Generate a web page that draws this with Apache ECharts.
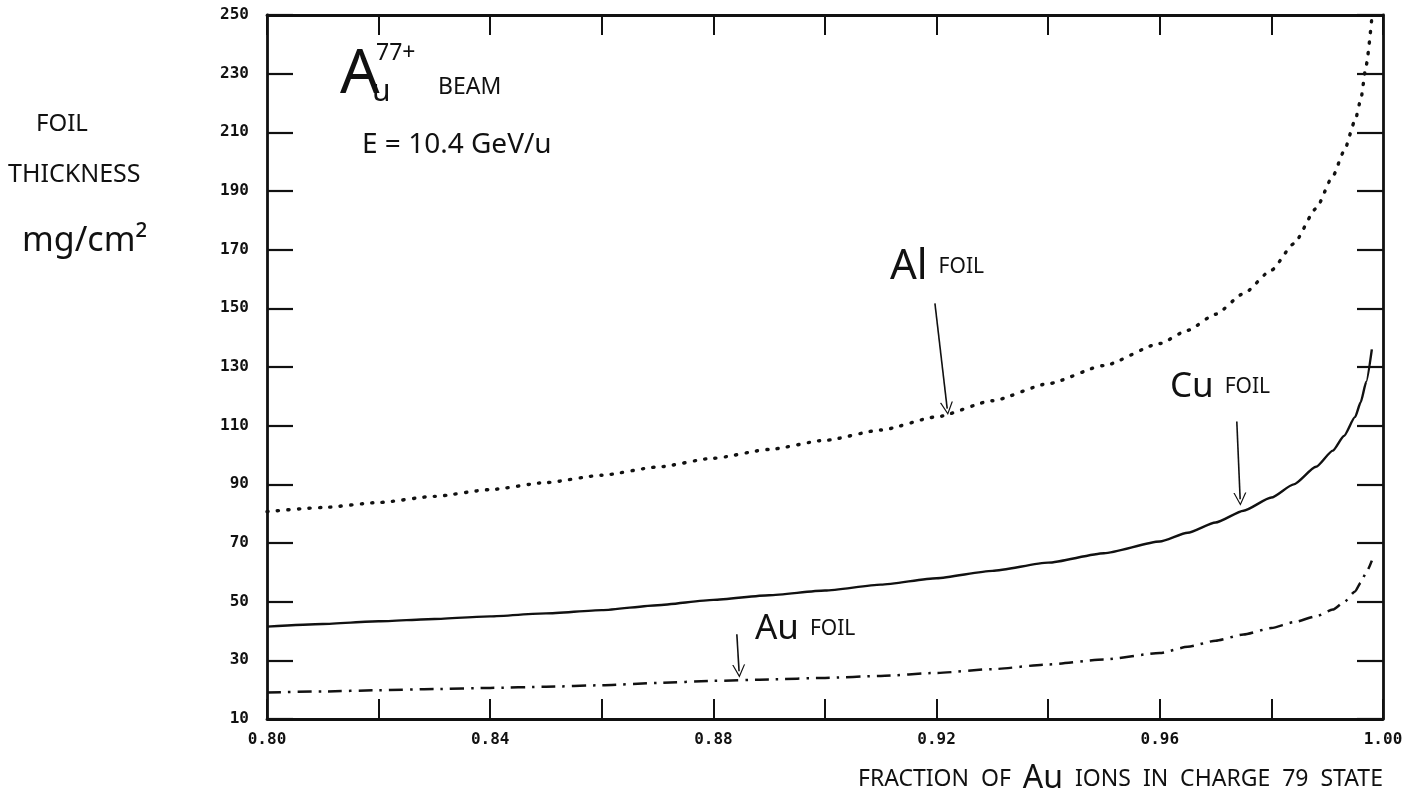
<!DOCTYPE html>
<html>
<head>
<meta charset="utf-8">
<script src="https://cdn.jsdelivr.net/npm/echarts@6/dist/echarts.min.js"></script>
<style>
html,body{margin:0;padding:0;background:#ffffff;}
#chart{width:1417px;height:807px;}
</style>
</head>
<body>
<div id="chart"></div>
<script>
// ---- data ----
const fractions = [0.800, 0.810, 0.820, 0.830, 0.840, 0.850, 0.860, 0.870, 0.880, 0.890,
                   0.900, 0.910, 0.920, 0.930, 0.940, 0.950, 0.960, 0.965, 0.970, 0.975,
                   0.980, 0.984, 0.988, 0.991, 0.993, 0.995, 0.996, 0.997, 0.998];
const alFoil = [80.7, 82.1, 83.8, 85.9, 88.2, 90.6, 93.1, 95.9, 98.9, 101.9,
                105.0, 108.5, 113.0, 118.5, 124.3, 130.5, 138.0, 142.5, 148.0, 155.0,
                163.0, 172.0, 184.0, 195.0, 203.5, 214.0, 221.0, 233.0, 249.0];
const cuFoil = [41.5, 42.4, 43.3, 44.1, 45.0, 46.0, 47.1, 48.8, 50.6, 52.2,
                53.8, 55.8, 58.0, 60.5, 63.3, 66.5, 70.5, 73.5, 77.0, 81.0,
                85.5, 90.0, 96.0, 101.5, 106.5, 113.0, 118.0, 125.0, 136.0];
const auFoil = [19.0, 19.4, 19.8, 20.2, 20.6, 21.0, 21.5, 22.3, 23.0, 23.5,
                24.0, 24.7, 25.7, 27.0, 28.6, 30.3, 32.5, 34.6, 36.7, 38.8,
                41.0, 43.0, 45.0, 47.3, 49.8, 53.5, 56.5, 60.0, 64.0];
const xTickLabels = ['0.80', '0.84', '0.88', '0.92', '0.96', '1.00'];
const yTickLabels = ['10', '30', '50', '70', '90', '110', '130', '150', '170', '190', '210', '230', '250'];
// annotation arrows: [start, tip] in data coordinates
const alArrow = [[0.9197, 151.7], [0.9219, 115.8]];
const cuArrow = [[0.9738, 111.4], [0.9744, 84.9]];
const auArrow = [[0.8842, 38.9], [0.8846, 26.3]];

// ---- chart ----
const chart = echarts.init(document.getElementById('chart'), null, {renderer: 'canvas'});
const pairs = ys => fractions.map((f, i) => [f, ys[i]]);
const INK = '#111111';
const tickFont = {fontFamily: 'DejaVu Sans Mono', fontWeight: 'bold', fontSize: 16, color: INK};
const hand = 'Noto Sans';
const vShape = 'path://M0,10 L5,0 L10,10 L9,10 L5,2 L1,10 Z';

function arrow(pts) {
  return {
    silent: true,
    symbol: ['none', vShape],
    symbolSize: 13,
    label: {show: false},
    lineStyle: {color: INK, width: 1.6, type: 'solid'},
    data: [[{coord: pts[0]}, {coord: pts[1]}]]
  };
}

const xBase = {
  type: 'value', min: 0.8, max: 1.0, interval: 0.02,
  axisLine: {show: true, onZero: false, lineStyle: {color: INK, width: 2.8}},
  axisTick: {show: true, inside: true, length: 20, lineStyle: {color: INK, width: 2}},
  splitLine: {show: false}
};
const yBase = {
  type: 'value', min: 10, max: 250, interval: 20,
  axisLine: {show: true, onZero: false, lineStyle: {color: INK, width: 2.8}},
  axisTick: {show: true, inside: true, length: 26, lineStyle: {color: INK, width: 2.2}},
  splitLine: {show: false}
};

const option = {
  backgroundColor: '#ffffff',
  animation: false,
  grid: {left: 267, right: 34, top: 15, bottom: 88, containLabel: false},
  xAxis: [
    Object.assign({}, xBase, {
      position: 'bottom',
      axisLabel: Object.assign({}, tickFont, {
        margin: 13, showMinLabel: true, showMaxLabel: true,
        formatter: v => { const s = v.toFixed(2); return xTickLabels.indexOf(s) >= 0 ? s : ''; }
      })
    }),
    Object.assign({}, xBase, {position: 'top', axisLabel: {show: false}})
  ],
  yAxis: [
    Object.assign({}, yBase, {
      position: 'left',
      axisLabel: Object.assign({}, tickFont, {
        margin: 18, showMinLabel: true, showMaxLabel: true,
        formatter: v => { const s = String(Math.round(v)); return yTickLabels.indexOf(s) >= 0 ? s : ''; }
      })
    }),
    Object.assign({}, yBase, {position: 'right', axisLabel: {show: false}})
  ],
  series: [
    {
      name: 'Al foil', type: 'line', xAxisIndex: 0, yAxisIndex: 0,
      data: pairs(alFoil), showSymbol: false, smooth: 0.2, smoothMonotone: 'x',
      lineStyle: {color: INK, width: 3.4, type: [1.2, 9.3], cap: 'round'},
      markLine: arrow(alArrow)
    },
    {
      name: 'Cu foil', type: 'line', xAxisIndex: 0, yAxisIndex: 0,
      data: pairs(cuFoil), showSymbol: false, smooth: 0.2, smoothMonotone: 'x',
      lineStyle: {color: INK, width: 2.4, type: 'solid'},
      markLine: arrow(cuArrow)
    },
    {
      name: 'Au foil', type: 'line', xAxisIndex: 0, yAxisIndex: 0,
      data: pairs(auFoil), showSymbol: false, smooth: 0.2, smoothMonotone: 'x',
      lineStyle: {color: INK, width: 2.5, type: [14, 7, 2.5, 7]},
      markLine: arrow(auArrow)
    }
  ],
  graphic: [
    // y-axis title
    {type: 'text', left: 36, top: 112, style: {text: 'FOIL', font: '24px "' + hand + '"', fill: INK}},
    {type: 'text', left: 8, top: 162, style: {text: 'THICKNESS', font: '25px "' + hand + '"', fill: INK}},
    {type: 'text', left: 22, top: 224, style: {text: 'mg/cm²', font: '34px "' + hand + '"', fill: INK}},
    // x-axis title
    {type: 'text', left: 858, top: 763, style: {
      text: '{s|FRACTION  OF  }{b|Au}{s|  IONS  IN  CHARGE  79  STATE}',
      rich: {
        s: {font: '23px "' + hand + '"', fill: INK},
        b: {font: '32px "' + hand + '"', fill: INK}
      }
    }},
    // beam annotation
    {type: 'text', left: 340, top: 44, style: {text: 'A', font: '62px "' + hand + '"', fill: INK}},
    {type: 'text', left: 372, top: 77, style: {text: 'u', font: '30px "' + hand + '"', fill: INK}},
    {type: 'text', left: 376, top: 42, style: {text: '77+', font: '23px "' + hand + '"', fill: INK}},
    {type: 'text', left: 438, top: 76, style: {text: 'BEAM', font: '23px "' + hand + '"', fill: INK}},
    {type: 'text', left: 362, top: 131, style: {text: 'E = 10.4 GeV/u', font: '28px "' + hand + '"', fill: INK}},
    // foil labels
    {type: 'text', left: 890, top: 246, style: {
      text: '{b|Al}{s|  FOIL}',
      rich: {b: {font: '42px "' + hand + '"', fill: INK}, s: {font: '21px "' + hand + '"', fill: INK}}
    }},
    {type: 'text', left: 1170, top: 370, style: {
      text: '{b|Cu}{s|  FOIL}',
      rich: {b: {font: '35px "' + hand + '"', fill: INK}, s: {font: '21px "' + hand + '"', fill: INK}}
    }},
    {type: 'text', left: 755, top: 612, style: {
      text: '{b|Au}{s|  FOIL}',
      rich: {b: {font: '35px "' + hand + '"', fill: INK}, s: {font: '21px "' + hand + '"', fill: INK}}
    }}
  ]
};
chart.setOption(option);
</script>
</body>
</html>
